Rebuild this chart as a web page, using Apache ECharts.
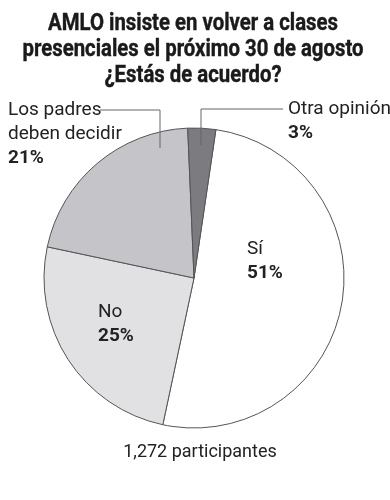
<!DOCTYPE html>
<html>
<head>
<meta charset="utf-8">
<script src="https://cdn.jsdelivr.net/npm/echarts@6/dist/echarts.min.js"></script>
<style>html,body{margin:0;padding:0;background:#fff}#c{width:390px;height:500px}</style>
</head>
<body>
<div id="c"></div>
<script>
const titleLines = ["AMLO insiste en volver a clases", "presenciales el próximo 30 de agosto", "¿Estás de acuerdo?"];
const categories = ["Sí", "No", "Los padres\ndeben decidir", "Otra opinión"];
const values = [51, 25, 21, 3];
const colors = ["#ffffff", "#e1e1e3", "#c5c5c9", "#7b7b80"];
const footnote = "1,272 participantes";

const labelPos = [
  {x: 247, y: 237},
  {x: 98, y: 300},
  {x: 8, y: 98},
  {x: 288, y: 97}
];

const TITLE_FONT = '700 23px Roboto';
const BODY_FONT = 'Roboto, sans-serif';

// horizontal compression so the widest title line spans ~341px (condensed face look)
const ctx = document.createElement('canvas').getContext('2d');
ctx.font = TITLE_FONT;
const widest = Math.max(...titleLines.map(t => ctx.measureText(t).width));
const titleScale = 341 / widest;
const titleTops = [13, 39, 65];

const titleGraphics = titleLines.map((t, i) => ({
  type: 'group',
  x: 193,
  y: titleTops[i],
  scaleX: titleScale,
  children: [{
    type: 'text',
    x: 0, y: 0,
    style: {text: t, font: TITLE_FONT, fill: '#1a1a1a', align: 'center', verticalAlign: 'top',
            stroke: '#1a1a1a', lineWidth: 0.4}
  }]
}));

const chart = echarts.init(document.getElementById('c'), null, {renderer: 'canvas'});
chart.setOption({
  animation: false,
  backgroundColor: '#fff',
  graphic: [
    ...titleGraphics,
    {type: 'polyline', shape: {points: [[100, 110], [160, 110], [160, 148]]}, style: {stroke: '#666', lineWidth: 1, fill: null}, z: 10},
    {type: 'polyline', shape: {points: [[283, 109], [201, 109], [201, 145]]}, style: {stroke: '#666', lineWidth: 1, fill: null}, z: 10},
    {type: 'text', x: 200, y: 443, style: {text: footnote, font: '18px Roboto', fill: '#222', align: 'center', verticalAlign: 'top'}}
  ],
  series: [{
    type: 'pie',
    center: [194, 278],
    radius: 150,
    startAngle: 81.6,
    clockwise: true,
    avoidLabelOverlap: false,
    itemStyle: {borderColor: '#555', borderWidth: 1},
    emphasis: {disabled: true},
    labelLine: {show: false},
    label: {
      show: true,
      position: 'inside',
      formatter: p => '{n|' + p.name + '}\n{p|' + p.value + '%}',
      rich: {
        n: {fontFamily: BODY_FONT, fontSize: 19, lineHeight: 24, color: '#222'},
        p: {fontFamily: BODY_FONT, fontWeight: 'bold', fontSize: 19, lineHeight: 24, color: '#222'}
      }
    },
    labelLayout: params => ({
      x: labelPos[params.dataIndex].x,
      y: labelPos[params.dataIndex].y,
      align: 'left',
      verticalAlign: 'top'
    }),
    data: categories.map((c, i) => ({name: c, value: values[i], itemStyle: {color: colors[i]}}))
  }]
});
</script>
</body>
</html>
